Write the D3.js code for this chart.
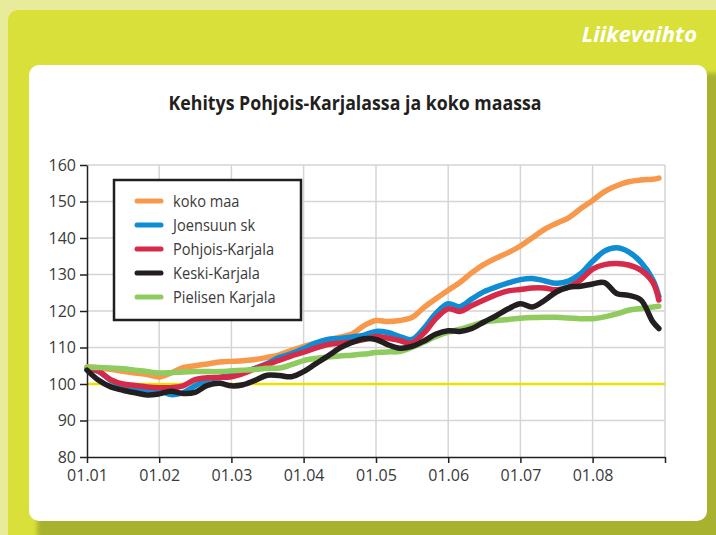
<!DOCTYPE html>
<html>
<head>
<meta charset="utf-8">
<script src="https://cdn.jsdelivr.net/npm/d3@7"></script>
<style>
  html, body { margin: 0; padding: 0; background: #e8ec9a; }
  svg { display: block; }
</style>
</head>
<body>
<svg id="chart" width="716" height="535"></svg>
<script>
// Month offsets from January 2001 (every second month, last point December 2008)
const months = [0, 2, 4, 6, 8, 10, 12, 14, 16, 18, 20, 22, 24, 26, 28, 30, 32, 34, 36, 38,
  40, 42, 44, 46, 48, 50, 52, 54, 56, 58, 60, 62, 64, 66, 68, 70, 72, 74, 76, 78,
  80, 82, 84, 86, 88, 90, 92, 94, 95];

const kokoMaa = [104.7, 104.4, 104.0, 103.5, 103.0, 102.6, 101.9, 103.0, 104.5, 105.0,
  105.5, 106.0, 106.2, 106.4, 106.7, 107.3, 108.0, 109.2, 110.3, 111.2,
  112.0, 112.8, 113.7, 116.0, 117.4, 117.1, 117.4, 118.2, 121.0, 123.4,
  125.7, 127.8, 130.5, 132.8, 134.5, 136.0, 137.8, 140.0, 142.3, 144.0,
  145.5, 148.0, 150.3, 152.7, 154.3, 155.4, 155.9, 156.1, 156.4];

const joensuu = [104.3, 103.4, 101.0, 99.5, 98.8, 98.4, 98.3, 97.1, 97.6, 99.5,
  101.2, 101.8, 102.4, 103.3, 104.3, 105.6, 107.3, 108.3, 109.7, 111.2,
  112.2, 112.5, 112.9, 113.4, 114.4, 114.1, 113.0, 112.2, 115.3, 119.4,
  122.0, 121.2, 123.3, 125.3, 126.6, 127.7, 128.6, 128.9, 128.3, 127.6,
  128.2, 130.2, 133.6, 136.4, 137.3, 136.2, 133.4, 128.5, 124.0];

const pohjoisKarjala = [104.3, 103.5, 101.2, 100.0, 99.6, 99.2, 99.0, 99.0, 99.5, 101.2,
  101.7, 101.8, 102.0, 102.9, 104.2, 105.4, 106.5, 107.7, 108.7, 109.8,
  110.8, 111.2, 111.5, 112.2, 113.0, 112.6, 111.9, 111.2, 114.0, 118.0,
  120.6, 119.9, 121.5, 123.0, 124.5, 125.5, 125.9, 126.3, 126.3, 125.8,
  126.5, 128.5, 131.5, 132.7, 133.0, 132.6, 131.2, 127.8, 123.0];

const keskiKarjala = [103.8, 101.0, 99.2, 98.3, 97.6, 97.0, 97.3, 98.0, 97.4, 97.7,
  99.6, 100.2, 99.5, 99.8, 101.0, 102.4, 102.3, 102.0, 103.4, 105.5,
  107.6, 109.8, 111.4, 112.4, 112.2, 110.8, 109.8, 110.3, 111.8, 113.7,
  114.6, 114.4, 115.2, 117.0, 118.7, 120.6, 122.0, 121.1, 122.8, 125.2,
  126.5, 126.8, 127.4, 127.8, 124.8, 124.3, 123.0, 117.0, 115.2];

const pielinen = [104.5, 104.5, 104.4, 104.2, 103.8, 103.4, 103.0, 103.1, 103.3, 103.4,
  103.4, 103.4, 103.6, 103.8, 104.0, 104.3, 104.4, 105.3, 106.4, 107.0,
  107.4, 107.7, 107.9, 108.2, 108.6, 108.8, 108.9, 110.0, 111.5, 113.0,
  114.2, 115.0, 116.0, 117.0, 117.4, 117.7, 118.0, 118.2, 118.3, 118.3,
  118.1, 117.9, 117.9, 118.4, 119.2, 120.2, 120.7, 121.1, 121.3];

const yTicks = [80, 90, 100, 110, 120, 130, 140, 150, 160];

// legend order, drawing order differs (black on top)
const series = [
  { name: 'koko maa',         values: kokoMaa,        color: '#f7984a' },
  { name: 'Joensuun sk',      values: joensuu,        color: '#0f8dd4' },
  { name: 'Pohjois-Karjala',  values: pohjoisKarjala, color: '#d62a4a' },
  { name: 'Keski-Karjala',    values: keskiKarjala,   color: '#231f20' },
  { name: 'Pielisen Karjala', values: pielinen,       color: '#8fcb5f' },
];
const drawOrder = ['koko maa', 'Joensuun sk', 'Pohjois-Karjala', 'Pielisen Karjala', 'Keski-Karjala'];

const svg = d3.select('#chart');
const FONT = "'Open Sans', 'DejaVu Sans', sans-serif";

// shadow filter
const defs = svg.append('defs');
defs.append('filter').attr('id', 'soft')
  .attr('x', '-5%').attr('y', '-5%').attr('width', '110%').attr('height', '110%')
  .append('feGaussianBlur').attr('stdDeviation', 2);

// green card
svg.append('rect')
  .attr('x', 8).attr('y', 10).attr('width', 740).attr('height', 560)
  .attr('rx', 10).attr('fill', '#d9e03a');

svg.append('text')
  .attr('x', 697).attr('y', 42)
  .attr('text-anchor', 'end')
  .attr('fill', '#ffffff')
  .attr('font-family', FONT)
  .attr('font-weight', 'bold')
  .attr('font-style', 'italic')
  .attr('font-size', 22)
  .text('Liikevaihto');

// white panel + olive shadow
svg.append('rect')
  .attr('x', 37).attr('y', 73).attr('width', 690).attr('height', 470)
  .attr('rx', 10).attr('fill', '#a9b22d').attr('filter', 'url(#soft)');
svg.append('rect')
  .attr('x', 29).attr('y', 65).attr('width', 678).attr('height', 456)
  .attr('rx', 10).attr('fill', '#ffffff');

svg.append('text')
  .attr('x', 355).attr('y', 110)
  .attr('text-anchor', 'middle')
  .attr('fill', '#231f20')
  .attr('font-family', FONT)
  .attr('font-weight', 'bold')
  .attr('font-size', 20)
  .attr('textLength', 373)
  .attr('lengthAdjust', 'spacingAndGlyphs')
  .text('Kehitys Pohjois-Karjalassa ja koko maassa');

// scales
const x = d3.scaleTime()
  .domain([new Date(2001, 0, 1), new Date(2009, 0, 1)])
  .range([87, 665]);
const y = d3.scaleLinear().domain([80, 160]).range([457, 165]);
const yearTicks = x.ticks(d3.timeYear.every(1));

// grid
const grid = svg.append('g').attr('stroke', '#d5d5d5').attr('stroke-width', 1.5);
grid.selectAll('line.h')
  .data(yTicks.filter(v => v > 80))
  .join('line')
  .attr('x1', x.range()[0]).attr('x2', x.range()[1])
  .attr('y1', d => y(d)).attr('y2', d => y(d));
grid.selectAll('line.v')
  .data(yearTicks.slice(1))
  .join('line')
  .attr('x1', d => x(d)).attr('x2', d => x(d))
  .attr('y1', y.range()[1]).attr('y2', y.range()[0]);

// reference line at 100
svg.append('line')
  .attr('x1', x.range()[0]).attr('x2', x.range()[1])
  .attr('y1', y(100)).attr('y2', y(100))
  .attr('stroke', '#ece000').attr('stroke-width', 2.5);

// axes
const fmt = d3.timeFormat('%m.%y');
const xAxis = svg.append('g')
  .attr('transform', `translate(0,${y.range()[0]})`)
  .call(d3.axisBottom(x).tickValues(yearTicks).tickSize(6).tickSizeOuter(0).tickPadding(7)
    .tickFormat(d => d.getFullYear() === 2009 ? '' : fmt(d)));
const yAxis = svg.append('g')
  .attr('transform', `translate(${x.range()[0]},0)`)
  .call(d3.axisLeft(y).tickValues(yTicks).tickSize(7).tickSizeOuter(0).tickPadding(4));

[xAxis, yAxis].forEach(g => {
  g.selectAll('path, line').attr('stroke', '#231f20').attr('stroke-width', 1.5);
  g.selectAll('text')
    .attr('fill', '#3a3a3a')
    .attr('font-family', FONT)
    .attr('font-size', 16);
});

// lines
const line = d3.line()
  .x((d, i) => x(new Date(2001, months[i], 1)))
  .y(d => y(d))
  .curve(d3.curveCatmullRom.alpha(0.5));

svg.append('g')
  .selectAll('path')
  .data(drawOrder.map(n => series.find(s => s.name === n)))
  .join('path')
  .attr('d', d => line(d.values))
  .attr('fill', 'none')
  .attr('stroke', d => d.color)
  .attr('stroke-width', 5.5)
  .attr('stroke-linejoin', 'round')
  .attr('stroke-linecap', 'round');

// legend
const legend = svg.append('g').attr('transform', 'translate(114,180)');
legend.append('rect')
  .attr('width', 187).attr('height', 140)
  .attr('fill', '#ffffff')
  .attr('stroke', '#231f20').attr('stroke-width', 2.5);

const items = legend.selectAll('g.item')
  .data(series)
  .join('g')
  .attr('class', 'item')
  .attr('transform', (d, i) => `translate(0,${21 + i * 24})`);

items.append('line')
  .attr('x1', 23).attr('x2', 47)
  .attr('stroke', d => d.color)
  .attr('stroke-width', 5)
  .attr('stroke-linecap', 'round');

items.append('text')
  .attr('transform', 'translate(59,0) scale(0.86,1)')
  .attr('dominant-baseline', 'central')
  .attr('fill', '#3a3a3a')
  .attr('font-family', FONT)
  .attr('font-size', 17)
  .text(d => d.name);
</script>
</body>
</html>
